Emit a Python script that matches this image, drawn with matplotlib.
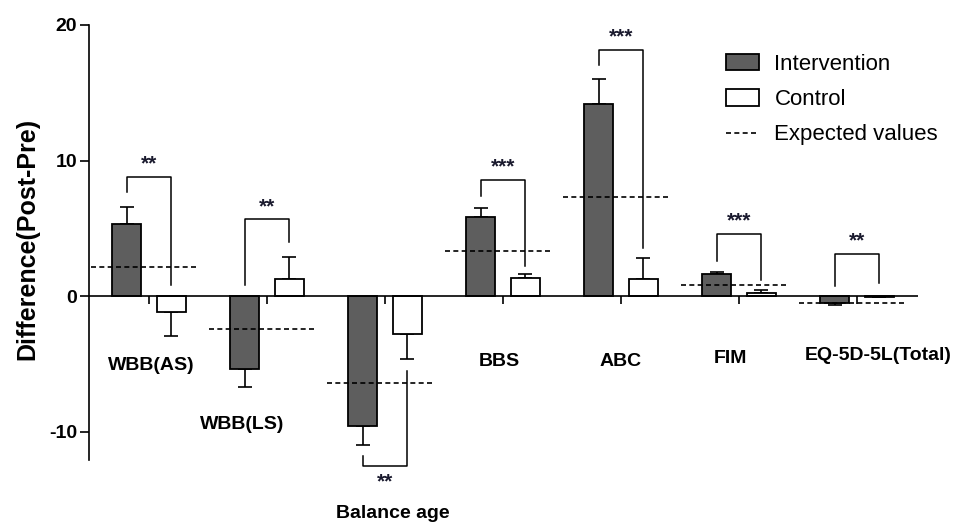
import matplotlib
matplotlib.use("Agg")
import matplotlib.pyplot as plt
from matplotlib.patches import Patch
from matplotlib.lines import Line2D
import numpy as np

plt.rcParams["font.family"] = ["Liberation Sans", "DejaVu Sans"]
plt.rcParams["axes.unicode_minus"] = False

DARK = "#5e5e5e"

categories = ["WBB(AS)", "WBB(LS)", "Balance age", "BBS", "ABC", "FIM", "EQ-5D-5L(Total)"]
intervention = [5.3, -5.4, -9.6, 5.8, 14.2, 1.6, -0.5]
intervention_err = [1.3, 1.3, 1.4, 0.7, 1.8, 0.2, 0.15]
control = [-1.15, 1.25, -2.8, 1.35, 1.25, 0.25, -0.06]
control_err = [1.8, 1.65, 1.85, 0.3, 1.55, 0.2, 0.04]
expected = [2.15, -2.4, -6.45, 3.35, 7.3, 0.8, -0.5]
significance = ["**", "**", "**", "***", "***", "***", "**"]

# significance brackets: level of the bar, end of the left leg, end of the right leg
bracket_level = [8.8, 5.65, -12.55, 8.55, 18.15, 4.6, 3.1]
bracket_left_end = [7.7, 0.8, -11.8, 7.4, 17.05, 2.55, 0.75]
bracket_right_end = [0.85, 4.0, -5.5, 2.2, 3.55, 1.15, 0.95]

# hand-placed category labels (as in the original figure)
label_dx = [0.02, -0.21, 0.07, -0.03, 0.0, -0.07, 0.18]
label_y = [-5.15, -9.5, -16.05, -4.8, -4.8, -4.6, -4.4]


def one_sided(values, errs):
    lower = [e if v < 0 else 0 for v, e in zip(values, errs)]
    upper = [e if v >= 0 else 0 for v, e in zip(values, errs)]
    return [lower, upper]


def main():
    fig = plt.figure(figsize=(9.58, 5.23), dpi=100)
    ax = fig.add_axes([89 / 958, 1 - 460 / 523, 829 / 958, 435 / 523])
    ax.set_xlim(-0.508, 6.517)
    ax.set_ylim(-12.1, 20)

    x = np.arange(len(categories))
    off = 0.19
    w = 0.25

    ax.errorbar(x - off, intervention, yerr=one_sided(intervention, intervention_err),
                fmt="none", ecolor="black", elinewidth=1.2, capsize=5, capthick=1.2, zorder=2)
    ax.errorbar(x + off, control, yerr=one_sided(control, control_err),
                fmt="none", ecolor="black", elinewidth=1.2, capsize=5, capthick=1.2, zorder=2)
    ax.bar(x - off, intervention, w, color=DARK, edgecolor="black", linewidth=1.3, zorder=3)
    ax.bar(x + off, control, w, color="white", edgecolor="black", linewidth=1.3, zorder=3)

    ax.axhline(0, color="black", linewidth=1.2, zorder=4)

    # expected values
    for xi, e in zip(x, expected):
        ax.plot([xi - 0.49, xi + 0.41], [e, e], color="black", linewidth=1.2,
                linestyle=(0, (3, 2)), zorder=5)

    # significance brackets
    for xi, s, lev, le, re in zip(x, significance, bracket_level, bracket_left_end, bracket_right_end):
        xl, xr = xi - off, xi + off
        ax.plot([xl, xl, xr, xr], [le, lev, lev, re], color="black", linewidth=1.1,
                zorder=5, clip_on=False)
        ty = lev - 1.15 if lev < 0 else lev + 0.95
        ax.text((xl + xr) / 2, ty, s, ha="center", va="center", fontsize=15,
                fontweight="bold", color="#1a1a2e", zorder=6, clip_on=False)

    for xi, name, dx, ly in zip(x, categories, label_dx, label_y):
        ax.text(xi + dx, ly, name, ha="center", va="center", fontsize=14,
                fontweight="bold", clip_on=False)

    ax.spines["top"].set_visible(False)
    ax.spines["right"].set_visible(False)
    ax.spines["bottom"].set_visible(False)
    ax.spines["left"].set_linewidth(1.2)

    ax.set_xticks([])
    # x ticks hang from the zero line
    ax.plot(x, np.zeros(len(x)), linestyle="none", marker=3, markersize=6,
            markeredgewidth=1.2, color="black", zorder=4, clip_on=False)

    ax.set_yticks([-10, 0, 10, 20])
    ax.tick_params(axis="y", length=6.5, width=1.2, pad=2, labelsize=14)
    for lab in ax.get_yticklabels():
        lab.set_fontweight("bold")

    fig.text(27 / 958, 1 - 239 / 523, "Difference(Post-Pre)", rotation=90,
             ha="center", va="center", fontsize=18, fontweight="bold")

    handles = [
        Patch(facecolor=DARK, edgecolor="black", linewidth=1.3),
        Patch(facecolor="white", edgecolor="black", linewidth=1.3),
        Line2D([], [], color="black", linewidth=1.2, linestyle=(0, (3, 2))),
    ]
    ax.legend(handles, ["Intervention", "Control", "Expected values"],
              loc="upper left", bbox_to_anchor=(726 / 958, 1 - 54 / 523),
              bbox_transform=fig.transFigure, frameon=False, fontsize=16,
              handlelength=1.5, handleheight=0.75, handletextpad=0.68,
              labelspacing=0.64, borderpad=0, borderaxespad=0)

    fig.savefig("out.png", dpi=100)
    plt.close(fig)


if __name__ == "__main__":
    main()
